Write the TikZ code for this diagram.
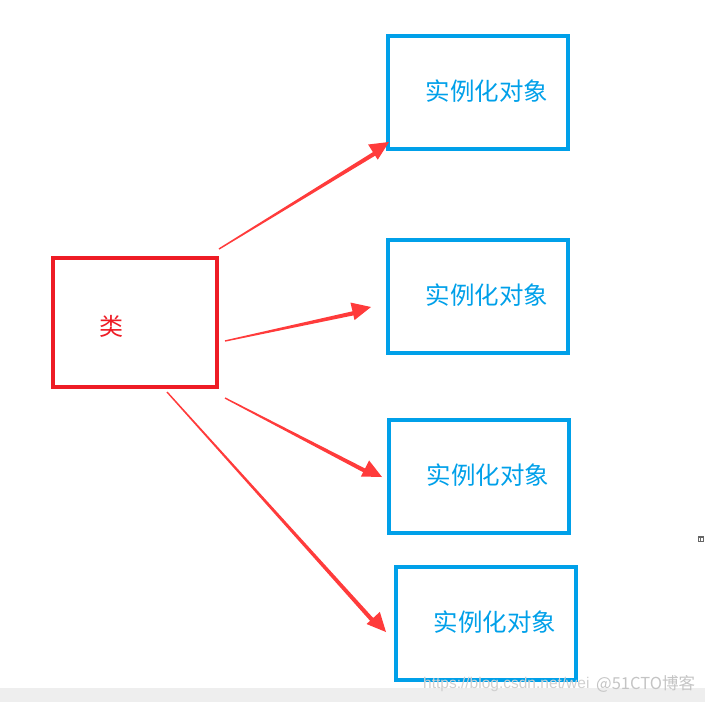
\documentclass[tikz,border=0pt]{standalone}
\usepackage{fontspec}
\newfontfamily\cjk{Noto Sans CJK SC}
\newfontfamily\wmfont{Liberation Sans}
\usetikzlibrary{calc}
\definecolor{boxred}{HTML}{EE1C25}
\definecolor{arrred}{HTML}{FF3B3B}
\definecolor{objblue}{HTML}{00A0E9}
\definecolor{band}{HTML}{EEEEEE}
\definecolor{wmgray}{HTML}{D0D0D0}
\tikzset{
  classbox/.style={draw=boxred, line width=4pt, minimum width=164pt, minimum height=129pt, inner sep=0pt},
  objbox/.style={draw=objblue, line width=4pt, minimum width=180pt, minimum height=113pt, inner sep=0pt},
  objtext/.style={text=objblue, font=\cjk\fontsize{24.5}{24.5}\selectfont},
  classtext/.style={text=boxred, font=\cjk\fontsize{24}{24}\selectfont},
  taper/.style={fill=arrred, draw=none}
}
\newcommand{\taparrow}[2]{%
  \fill[taper] ($(#1)!0.7pt!90:(#2)$) -- ($(#2)!19pt!(#1)$) coordinate (tmpc)
    -- ($(tmpc)!4.2pt!90:(#2)$) -- ($(tmpc)!9pt!90:(#2)$) -- (#2)
    -- ($(tmpc)!9pt!-90:(#2)$) -- ($(tmpc)!4.2pt!-90:(#2)$) -- ($(#1)!0.7pt!-90:(#2)$) -- cycle;}
\begin{document}
\begin{tikzpicture}[x=1pt,y=-1pt]
\useasboundingbox (0,0) rectangle (705,702);
\fill[band] (0,688) rectangle (705,702);
% class box
\node[classbox] (cls) at (135,322.5) {};
\node[classtext] (clst) at (111,326) {类};
% object boxes
\node[objbox] (o1) at (478,92.5) {};
\node[objbox] (o2) at (478,296) {};
\node[objbox] (o3) at (479,476) {};
\node[objbox] (o4) at (486,623.5) {};
\node[objtext] (t1) at (487,91) {实例化对象};
\node[objtext] (t2) at (487,295) {实例化对象};
\node[objtext] (t3) at (488,475) {实例化对象};
\node[objtext] (t4) at (495,622) {实例化对象};
% arrow endpoints
\coordinate (s1) at (219,249);
\coordinate (e1) at (389,142);
\coordinate (s2) at (225,341);
\coordinate (e2) at (371,307);
\coordinate (s3) at (225,398);
\coordinate (e3) at (382,477);
\coordinate (s4) at (167,392);
\coordinate (e4) at (386,632);
\taparrow{s1}{e1}
\taparrow{s2}{e2}
\taparrow{s3}{e3}
\taparrow{s4}{e4}
% small icon
\node[draw=gray!80!black, line width=0.6pt, minimum width=5pt, minimum height=5pt, inner sep=0pt] (icon) at (700.5,538.5) {};
\draw[gray!80!black, line width=0.5pt] (icon.north west) ++(0,1.6) -- ++(5,0);
\draw[gray!80!black, line width=0.5pt] (icon.center) ++(0,-0.9) -- (icon.south);
% watermark
\node[anchor=west, text=wmgray, font=\wmfont\fontsize{15.5}{15.5}\selectfont, inner sep=0pt] (wm1) at (423,684) {https://blog.csdn.net/wei};
\node[anchor=west, text=wmgray!85!gray, font=\cjk\fontsize{16.5}{16.5}\selectfont, inner sep=0pt] (wm2) at (596,684) {@51CTO博客};
\end{tikzpicture}
\end{document}
